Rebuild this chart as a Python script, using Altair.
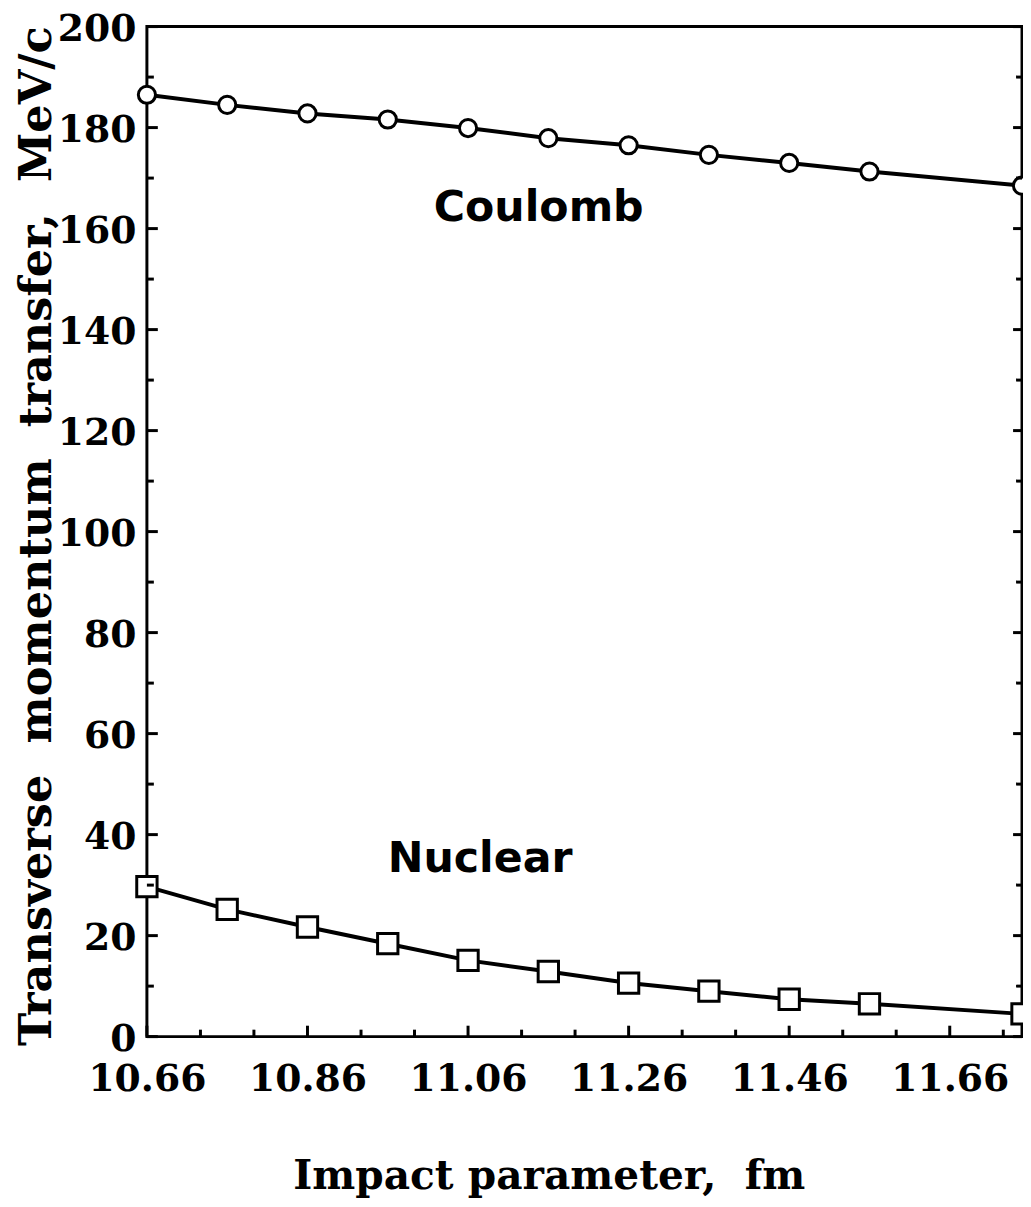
import altair as alt
import pandas as pd

# ---- data ----
impact = [10.66, 10.76, 10.86, 10.96, 11.06, 11.16, 11.26, 11.36, 11.46, 11.56, 11.75]
coulomb = [186.5, 184.5, 182.8, 181.6, 179.9, 177.9, 176.5, 174.6, 173.0, 171.3, 168.5]
nuclear = [29.7, 25.2, 21.7, 18.4, 15.1, 12.9, 10.6, 9.0, 7.4, 6.5, 4.5]

x_major = [10.66, 10.86, 11.06, 11.26, 11.46, 11.66]
x_minor = [10.7267, 10.7933, 10.9267, 10.9933, 11.1267, 11.1933,
           11.3267, 11.3933, 11.5267, 11.5933, 11.7267]
y_major = [0, 20, 40, 60, 80, 100, 120, 140, 160, 180, 200]
y_minor = [10, 30, 50, 70, 90, 110, 130, 150, 170, 190]

labels = ["Coulomb", "Nuclear"]
label_x = [11.148, 11.075]
label_y = [164.0, 35.2]

W, H = 882, 1018
SERIF = "DejaVu Serif"

df = pd.DataFrame({
    "x": impact * 2,
    "y": coulomb + nuclear,
    "series": ["Coulomb"] * len(impact) + ["Nuclear"] * len(impact),
})
df_c = df[df.series == "Coulomb"]
df_n = df[df.series == "Nuclear"]
xmaj = pd.DataFrame({"v": x_major})
xmin = pd.DataFrame({"v": x_minor})
ymaj = pd.DataFrame({"v": y_major})
ymin = pd.DataFrame({"v": y_minor})
lab = pd.DataFrame({"label": labels, "x": label_x, "y": label_y})

xscale = alt.Scale(domain=[10.66, 11.75], nice=False, zero=False)
yscale = alt.Scale(domain=[0, 200], nice=False)

xaxis = alt.Axis(
    values=x_major, format=".2f", ticks=False, domain=False, grid=False,
    labelFont=SERIF, labelFontWeight="bold", labelFontSize=38, labelColor="black",
    labelPadding=24, labelFlush=False, labelOverlap=False,
    title="Impact parameter,\u00a0\u00a0fm", titleFont=SERIF, titleFontWeight="bold",
    titleFontSize=41, titleColor="black", titleX=405, titleY=153,
    titleAlign="center", titleBaseline="alphabetic",
)
yaxis = alt.Axis(
    values=y_major, format="d", ticks=False, domain=False, grid=False,
    labelFont=SERIF, labelFontWeight="bold", labelFontSize=38, labelColor="black",
    labelPadding=11, labelFlush=False, labelOverlap=False, labelOffset=3,
    title="Transverse\u00a0\u00a0momentum\u00a0\u00a0transfer,\u00a0\u00a0MeV/c",
    titleFont=SERIF, titleFontWeight="bold", titleFontSize=45, titleColor="black",
    titleX=-111, titleY=513, titleAngle=270, titleAlign="center",
    titleBaseline="middle",
)

X = alt.X("x:Q", scale=xscale, axis=xaxis)
Y = alt.Y("y:Q", scale=yscale, axis=yaxis)

line = alt.Chart(df).mark_line(color="black", strokeWidth=4).encode(
    x=X, y=Y, detail="series:N"
)
circles = alt.Chart(df_c).mark_point(
    shape="circle", filled=True, fill="white", stroke="black", strokeWidth=3,
    size=300, opacity=1
).encode(x="x:Q", y="y:Q")
squares = alt.Chart(df_n).mark_point(
    shape="square", filled=True, fill="white", stroke="black", strokeWidth=3,
    size=420, opacity=1
).encode(x="x:Q", y="y:Q")

tick_style = dict(color="black", strokeWidth=3)
xt_major = alt.Chart(xmaj).mark_rule(**tick_style).encode(
    x="v:Q", y=alt.value(H), y2=alt.value(H - 11))
xt_minor = alt.Chart(xmin).mark_rule(**tick_style).encode(
    x="v:Q", y=alt.value(H), y2=alt.value(H - 7))
yl_major = alt.Chart(ymaj).mark_rule(**tick_style).encode(
    y="v:Q", x=alt.value(0), x2=alt.value(11))
yl_minor = alt.Chart(ymin).mark_rule(**tick_style).encode(
    y="v:Q", x=alt.value(0), x2=alt.value(7))
yr_major = alt.Chart(ymaj).mark_rule(**tick_style).encode(
    y="v:Q", x=alt.value(W), x2=alt.value(W - 9))
yr_minor = alt.Chart(ymin).mark_rule(**tick_style).encode(
    y="v:Q", x=alt.value(W), x2=alt.value(W - 6))

text = alt.Chart(lab).mark_text(
    font="DejaVu Sans", fontWeight="bold", fontSize=43, color="black",
    align="center", baseline="middle"
).encode(x="x:Q", y="y:Q", text="label:N")

chart = alt.layer(
    line, circles, squares, xt_major, xt_minor, yl_major, yl_minor,
    yr_major, yr_minor, text
).properties(
    width=W, height=H,
    background="white",
    autosize=alt.AutoSizeParams(type="none"),
    padding={"left": 140, "top": 14, "right": 1, "bottom": 167},
).configure_view(stroke="black", strokeWidth=3)

chart.save("out.html", embed_options={"renderer": "svg", "actions": False})
